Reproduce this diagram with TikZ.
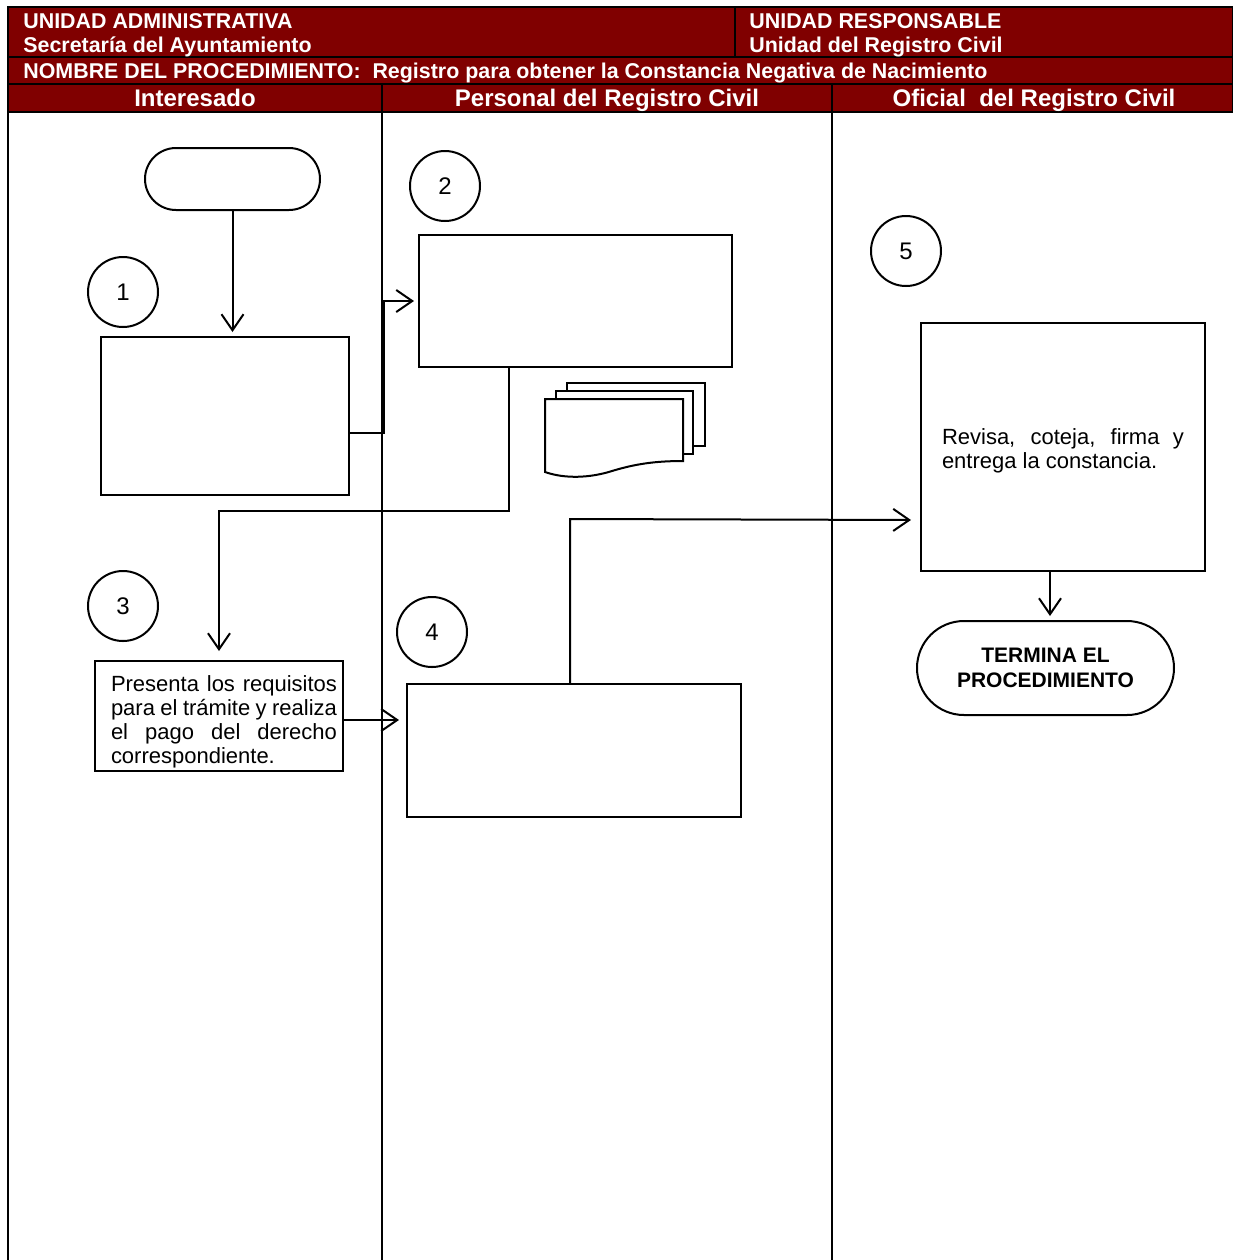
\documentclass[tikz,border=0pt]{standalone}
\usepackage{fontspec}
\setmainfont{Liberation Sans}
\usetikzlibrary{arrows.meta}
\definecolor{guinda}{RGB}{128,0,0}

\tikzset{
  caja/.style={draw, line width=1pt, fill=white, inner sep=0pt},
  numero/.style={draw, circle, line width=1pt, minimum size=35pt, inner sep=0pt, font=\fontsize{12}{14}\selectfont},
  texto/.style={font=\fontsize{11}{12}\selectfont, align=justify},
  encabezado/.style={text=white, font=\bfseries\fontsize{10.7}{12}\selectfont, inner sep=0pt},
  titulo/.style={encabezado, anchor=base, font=\bfseries\fontsize{12}{14}\selectfont},
  carril/.style={line width=0.8pt},
  flecha/.style={line width=1pt, shorten >=2pt, -{Straight Barb[length=8pt,width=11pt,line width=1pt]}},
  linea/.style={line width=1pt}
}

\begin{document}
\begin{tikzpicture}[x=0.5pt,y=-0.5pt]
  \useasboundingbox (0,0) rectangle (1233,1260);

  % encabezado
  \draw [line width=1pt, fill=guinda] (8,7) rectangle (735,57);
  \draw [line width=1pt, fill=guinda] (735,7) rectangle (1233,57);
  \draw [line width=1pt, fill=guinda] (8,57) rectangle (1233,84);
  \draw [line width=1pt, fill=guinda] (8,84) rectangle (382,112);
  \draw [line width=1pt, fill=guinda] (382,84) rectangle (832,112);
  \draw [line width=1pt, fill=guinda] (832,84) rectangle (1233,112);

  \node [encabezado, anchor=base west] (ua) at (23,28) {UNIDAD ADMINISTRATIVA};
  \node [encabezado, anchor=base west] (secre) at (23,52.5) {Secretaría del Ayuntamiento};
  \node [encabezado, anchor=base west] (ur) at (749,28) {UNIDAD RESPONSABLE};
  \node [encabezado, anchor=base west] (urc) at (749,52.5) {Unidad del Registro Civil};
  \node [encabezado, anchor=base west] (nombre) at (23,78) {NOMBRE DEL PROCEDIMIENTO:\ \ Registro para obtener la Constancia Negativa de Nacimiento};

  \node [titulo] (interesado) at (195,106) {Interesado};
  \node [titulo] (personal) at (607,106) {Personal del Registro Civil};
  \node [titulo] (oficial) at (1034,106) {Oficial\ \ del Registro Civil};

  % carriles
  \draw [carril] (8,112) -- (8,1260);
  \draw [carril] (382,112) -- (382,1260);
  \draw [carril] (832,112) -- (832,1260);

  % actividades
  \node [caja, rounded corners=15.5pt, minimum width=87.5pt, minimum height=31pt] (inicio) at (232.5,179) {};
  \node [numero] (n1) at (123,292) {1};
  \node [caja, minimum width=124pt, minimum height=79pt] (caja1) at (225,416) {};

  \node [numero] (n2) at (445,186) {2};
  \node [caja, minimum width=156.5pt, minimum height=66pt] (caja2) at (575.5,301) {};

  % documentos
  \draw [linea, fill=white] (567,383) rectangle (705,446);
  \draw [linea, fill=white] (556,391) rectangle (693,454);
  \draw [linea, fill=white] (545,399) -- (683,399) -- (683,461)
    .. controls (655,461) and (635,464) .. (612,471)
    .. controls (590,478) and (565,479) .. (545,472) -- cycle;

  \node [numero] (n3) at (123,606) {3};
  \node [caja, texto, text width=118pt, minimum width=124pt, minimum height=55pt] (caja3) at (219,716)
    {\rule{0pt}{14pt}\hspace*{5pt}Presenta los requisitos\linebreak
     \hspace*{5pt}para el trámite y realiza\linebreak
     \hspace*{5pt}el pago del derecho\linebreak
     \hspace*{5pt}correspondiente.};

  \node [numero] (n4) at (432,632) {4};
  \node [caja, minimum width=167pt, minimum height=66.5pt] (caja4) at (574,750.5) {};

  \node [numero] (n5) at (906,251) {5};
  \node [caja, texto, text width=121pt, minimum width=142pt, minimum height=124pt] (caja5) at (1063,447)
    {\rule{0pt}{12pt}Revisa, coteja, firma y\linebreak entrega la constancia.};

  \node [caja, rounded corners=23.5pt, minimum width=128.5pt, minimum height=47pt, align=center,
    font=\bfseries\fontsize{10.5}{12.5}\selectfont] (termina) at (1045.5,668) {TERMINA EL\\PROCEDIMIENTO};

  % conexiones
  \draw [flecha] (inicio.south) -- (inicio.south |- caja1.north);
  \draw [flecha] ([yshift=-8.5pt]caja1.east) -- ++(34,0) |- (caja2.west);
  \draw [flecha, shorten >=4.5pt] ([xshift=-33.25pt]caja2.south) -- ++(0,143) -| (caja3.north);

  \coordinate (p3) at ([yshift=-2pt]caja3.east);
  \draw [flecha, shorten >=3.5pt] (p3) -- (p3 -| caja4.west);

  \coordinate (p4) at ([xshift=-2pt]caja4.north);
  \draw [flecha, shorten >=4.5pt] (p4) -- ++(0,-164) -- ([yshift=-36.5pt]caja5.west);

  \coordinate (p5) at ([xshift=-6.5pt]caja5.south);
  \draw [flecha] (p5) -- (p5 |- termina.north);

\end{tikzpicture}
\end{document}
